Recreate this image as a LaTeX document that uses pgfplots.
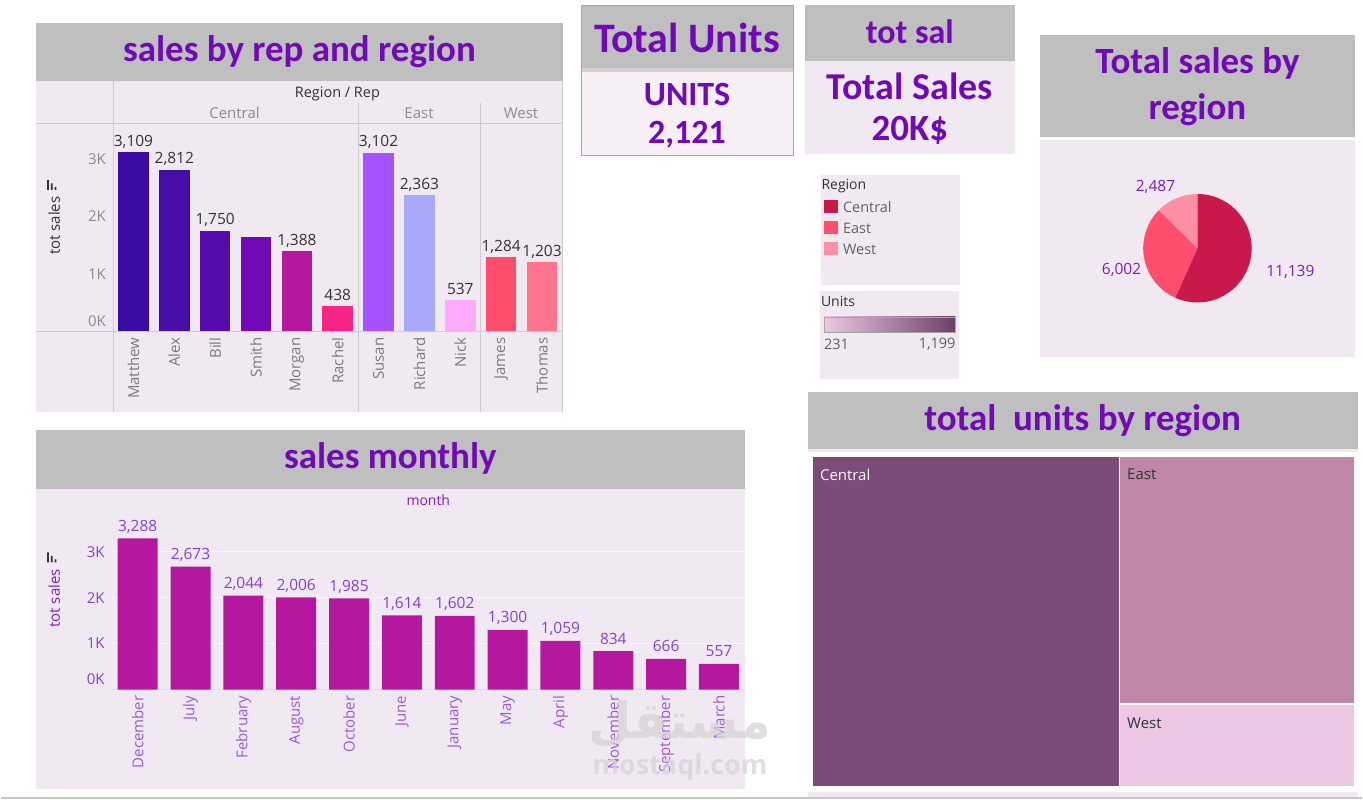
\documentclass[border=0pt]{standalone}
\usepackage{pgfplots}
\pgfplotsset{compat=1.18}
\usepackage{fontspec}
\setmainfont{Open Sans}
\newfontfamily\titlefont{Carlito}
\newfontfamily\arabicfont[Script=Arabic]{DejaVu Sans}
\TeXXeTstate=1

\newcommand\fs[1]{\fontsize{#1}{#1}\selectfont}

% dashboard palette
\definecolor{lav}{HTML}{F1E9F1}
\definecolor{lavlight}{HTML}{F6F0F6}
\definecolor{hdrgray}{HTML}{BFBFBF}
\definecolor{ttl}{HTML}{7209B7}
\definecolor{divider}{HTML}{CFCACF}
\definecolor{axgray}{HTML}{8C8C8C}
\definecolor{labgray}{HTML}{7A7A7A}
\definecolor{valgray}{HTML}{333333}
\definecolor{purtext}{HTML}{8441D3}
\definecolor{purmonth}{HTML}{9B59D6}
\definecolor{purlabel}{HTML}{7A1FC2}
\definecolor{gridc}{HTML}{F9F5F9}
\definecolor{markgray}{HTML}{D6D3D6}
% reps
\definecolor{cMatthew}{HTML}{3A0CA3}
\definecolor{cAlex}{HTML}{480CA8}
\definecolor{cBill}{HTML}{560BAD}
\definecolor{cSmith}{HTML}{7209B7}
\definecolor{cMorgan}{HTML}{B5179E}
\definecolor{cRachel}{HTML}{F72585}
\definecolor{cSusan}{HTML}{A652FE}
\definecolor{cRichard}{HTML}{A9A9FA}
\definecolor{cNick}{HTML}{FDAAFC}
\definecolor{cJames}{HTML}{FF4D6D}
\definecolor{cThomas}{HTML}{FF758F}
% regions
\definecolor{pieC}{HTML}{C9184A}
\definecolor{pieE}{HTML}{FF4D6D}
\definecolor{pieW}{HTML}{FF8FA3}
\definecolor{tmC}{HTML}{7B4C78}
\definecolor{tmE}{HTML}{BE87A8}
\definecolor{tmW}{HTML}{ECC8E4}

\begin{document}
\begin{tikzpicture}[x=1pt,y=1pt]
\fill[white] (0,0) rectangle (1363,-800);

%% ---------------- sales by rep and region ----------------
\fill[lav] (35,-81) rectangle (563,-412);
\fill[hdrgray] (35,-23) rectangle (563,-81.5);
\node[font=\titlefont\bfseries\fs{37}, text=ttl] at (299,-52) {sales by rep and region};
\draw[divider, line width=1pt] (35,-123.3) -- (563,-123.3);
\draw[divider, line width=1pt] (35,-331.7) -- (563,-331.7);
\draw[divider, line width=1pt] (112.4,-81.5) -- (112.4,-412);
\draw[divider, line width=1pt] (357.8,-103) -- (357.8,-412);
\draw[divider, line width=1pt] (480.5,-103) -- (480.5,-412);
\draw[divider, line width=1pt] (562.5,-81.5) -- (562.5,-412);
\node[font=\fs{14.5}, text=valgray] at (337,-94) {Region / Rep};
\node[font=\fs{15}, text=axgray] at (234,-113.5) {Central};
\node[font=\fs{15}, text=axgray] at (418.7,-113.5) {East};
\node[font=\fs{15}, text=axgray] at (520.8,-113.5) {West};
\node[font=\fs{15}, text=valgray, rotate=90] at (53.5,-226) {tot sales};
\fill[valgray] (46.5,-190) rectangle (48.3,-180) (50.2,-190) rectangle (52,-183.5) (53.9,-190) rectangle (55.7,-187);

\begin{axis}[
  at={(112.4pt,-331.7pt)}, anchor=south west,
  scale only axis, width=449.9pt, height=208.4pt,
  xmin=-0.5, xmax=10.5, ymin=0, ymax=3618,
  axis line style={draw=none}, major tick length=0pt,
  ybar, bar width=30.7pt, bar shift=0pt,
  ytick={1000,2000,3000}, yticklabels={1K,2K,3K},
  extra y ticks={0}, extra y tick labels={0K},
  extra y tick style={yticklabel style={yshift=10.5pt}},
  yticklabel style={font=\fs{15}, text=axgray, anchor=east, inner sep=0pt, xshift=-7pt},
  xtick={0,...,10},
  xticklabels={Matthew,Alex,Bill,Smith,Morgan,Rachel,Susan,Richard,Nick,James,Thomas},
  xticklabel style={font=\fs{15}, text=labgray, rotate=90, anchor=east, inner sep=0pt},
  xticklabel shift=6pt,
  nodes near coords, point meta=explicit symbolic,
  every node near coord/.append style={font=\fs{15.5}, text=valgray, inner sep=0pt, anchor=base, yshift=6pt},
  clip=false,
]
\addplot[fill=cMatthew, draw=none] coordinates {(0,3109) [3,109]};
\addplot[fill=cAlex,    draw=none] coordinates {(1,2812) [2,812]};
\addplot[fill=cBill,    draw=none] coordinates {(2,1750) [1,750]};
\addplot[fill=cSmith,   draw=none] coordinates {(3,1642) []};
\addplot[fill=cMorgan,  draw=none] coordinates {(4,1388) [1,388]};
\addplot[fill=cRachel,  draw=none] coordinates {(5,438) [438]};
\addplot[fill=cSusan,   draw=none] coordinates {(6,3102) [3,102]};
\addplot[fill=cRichard, draw=none] coordinates {(7,2363) [2,363]};
\addplot[fill=cNick,    draw=none] coordinates {(8,537) [537]};
\addplot[fill=cJames,   draw=none] coordinates {(9,1284) [1,284]};
\addplot[fill=cThomas,  draw=none] coordinates {(10,1203) [1,203]};
\end{axis}

%% ---------------- sales monthly ----------------
\fill[lav] (35,-490) rectangle (745,-790);
\fill[hdrgray] (35,-430) rectangle (745,-490);
\node[font=\titlefont\bfseries\fs{37}, text=ttl] at (390,-459) {sales monthly};
\node[font=\fs{14}, text=purlabel] at (428,-501) {month};
\node[font=\fs{15}, text=purlabel, rotate=90] at (53.5,-599) {tot sales};
\fill[valgray] (46.5,-563) rectangle (48.3,-553) (50.2,-563) rectangle (52,-556.5) (53.9,-563) rectangle (55.7,-560);
\draw[divider!60, line width=0.8pt] (110.7,-690.3) -- (745,-690.3);

\begin{axis}[
  at={(110.65pt,-690.3pt)}, anchor=south west,
  scale only axis, width=634.8pt, height=178pt,
  xmin=-0.5, xmax=11.5, ymin=0, ymax=3870,
  axis line style={draw=none}, major tick length=0pt,
  ymajorgrids, grid style={draw=gridc, line width=1pt},
  ybar, bar width=40pt, bar shift=0pt,
  ytick={1000,2000,3000}, yticklabels={1K,2K,3K},
  extra y ticks={0}, extra y tick labels={0K},
  extra y tick style={yticklabel style={yshift=10.5pt}, major grid style={draw=none}},
  yticklabel style={font=\fs{15}, text=purtext, anchor=east, inner sep=0pt, xshift=-6.5pt},
  xtick={0,...,11},
  xticklabels={December,July,February,August,October,June,January,May,April,November,September,March},
  xticklabel style={font=\fs{15}, text=purmonth, rotate=90, anchor=east, inner sep=0pt},
  xticklabel shift=6pt,
  nodes near coords, point meta=explicit symbolic,
  every node near coord/.append style={font=\fs{15.5}, text=purtext, inner sep=0pt, anchor=base, yshift=7pt},
  clip=false,
]
\addplot[fill=cMorgan, draw=none] coordinates {
  (0,3288) [3,288] (1,2673) [2,673] (2,2044) [2,044] (3,2006) [2,006]
  (4,1985) [1,985] (5,1614) [1,614] (6,1602) [1,602] (7,1300) [1,300]
  (8,1059) [1,059] (9,834) [834] (10,666) [666] (11,557) [557]};
\end{axis}

%% ---------------- Total Units card ----------------
\fill[lavlight] (581.7,-6) rectangle (793.3,-156);
\fill[hdrgray] (581.7,-6) rectangle (793.3,-68.3);
\fill[hdrgray!70] (581.7,-68.3) rectangle (793.3,-71.7);
\draw[gray!70, line width=1pt] (581.7,-6) rectangle (793.3,-156);
\node[font=\titlefont\bfseries\fs{42}, text=ttl] at (687,-38) {Total Units};
\node[font=\titlefont\bfseries\fs{34}, text=ttl] at (687,-94.3) {UNITS};
\node[font=\titlefont\bfseries\fs{34}, text=ttl] at (687,-135) {2,121};

%% ---------------- tot sal card ----------------
\fill[lav] (805,-61) rectangle (1015,-153.7);
\fill[hdrgray] (805,-5) rectangle (1015,-61);
\node[font=\titlefont\bfseries\fs{34}, text=ttl] at (910,-32) {tot sal};
\node[font=\titlefont\bfseries\fs{38}, text=ttl] at (910,-86) {Total Sales};
\node[font=\titlefont\bfseries\fs{37}, text=ttl] at (910,-130) {20K\$};

%% ---------------- legends ----------------
\fill[lav] (821,-175) rectangle (960,-285.7);
\node[font=\fs{14}, text=valgray, anchor=west, inner sep=0pt] at (821.5,-186) {Region};
\fill[pieC] (824,-200) rectangle (837.7,-213.7);
\fill[pieE] (824,-221) rectangle (837.7,-234.7);
\fill[pieW] (824,-242) rectangle (837.7,-255.7);
\node[font=\fs{14.5}, text=labgray!80!black, anchor=west, inner sep=0pt] at (843,-207.3) {Central};
\node[font=\fs{14.5}, text=labgray!80!black, anchor=west, inner sep=0pt] at (843,-228.3) {East};
\node[font=\fs{14.5}, text=labgray!80!black, anchor=west, inner sep=0pt] at (843,-249.3) {West};

\fill[lav] (820,-291) rectangle (959,-379);
\node[font=\fs{14}, text=valgray, anchor=west, inner sep=0pt] at (821,-302) {Units};
\shade[left color=tmW, right color=tmC!85!black] (824.3,-317.3) rectangle (955.7,-332.3);
\draw[gray!70, line width=0.8pt] (824.3,-317.3) rectangle (955.7,-332.3);
\node[font=\fs{14.5}, text=labgray!80!black, anchor=west, inner sep=0pt] at (824,-345) {231};
\node[font=\fs{14.5}, text=labgray!80!black, anchor=east, inner sep=0pt] at (956,-345) {1,199};

%% ---------------- Total sales by region (pie) ----------------
\fill[lav] (1040,-140) rectangle (1356,-357.7);
\fill[hdrgray] (1040,-35) rectangle (1356,-136.7);
\node[font=\titlefont\bfseries\fs{37}, text=ttl] at (1198,-63.3) {Total sales by};
\node[font=\titlefont\bfseries\fs{37}, text=ttl] at (1198,-110) {region};

% region sales, in hundreds for the angle arithmetic
\pgfmathsetmacro{\sC}{11139/100}
\pgfmathsetmacro{\sE}{6002/100}
\pgfmathsetmacro{\sW}{2487/100}
\pgfmathsetmacro{\sT}{\sC+\sE+\sW}
\pgfmathsetmacro{\aC}{90-360*(\sC/\sT)}
\pgfmathsetmacro{\aE}{\aC-360*(\sE/\sT)}
\begin{axis}[
  at={(1198pt,-248.5pt)}, anchor=center,
  scale only axis, width=108.6pt, height=108.6pt,
  xmin=-1, xmax=1, ymin=-1, ymax=1, hide axis, clip=false,
]
\fill[pieC] (axis cs:0,0) -- ++(90:54.3pt) arc[start angle=90, end angle=\aC, radius=54.3pt] -- cycle;
\fill[pieE] (axis cs:0,0) -- ++(\aC:54.3pt) arc[start angle=\aC, end angle=\aE, radius=54.3pt] -- cycle;
\fill[pieW] (axis cs:0,0) -- ++(\aE:54.3pt) arc[start angle=\aE, end angle=-270, radius=54.3pt] -- cycle;
\end{axis}
\node[font=\fs{15.5}, text=purlabel] at (1156,-187) {2,487};
\node[font=\fs{15.5}, text=purlabel] at (1122,-270) {6,002};
\node[font=\fs{15.5}, text=purlabel] at (1291,-272) {11,139};

%% ---------------- total units by region (treemap) ----------------
\fill[hdrgray] (808,-392) rectangle (1359,-449);
\fill[lav] (808,-449) rectangle (1359,-452);
\fill[lav] (808,-793) rectangle (1359,-799);
\node[font=\titlefont\bfseries\fs{37}, text=ttl] at (1083,-421) {total\ \ units by region};
\begin{axis}[
  at={(812.8pt,-787.7pt)}, anchor=south west,
  scale only axis, width=542.7pt, height=330.7pt,
  xmin=0, xmax=2121, ymin=0, ymax=922, hide axis, clip=false,
]
% area of each tile = units x 922
\addplot[fill=tmC, draw=white, line width=1.2pt] coordinates {(0,0) (1199,0) (1199,922) (0,922)} -- cycle;
\addplot[fill=tmE, draw=white, line width=1.2pt] coordinates {(1199,231) (2121,231) (2121,922) (1199,922)} -- cycle;
\addplot[fill=tmW, draw=white, line width=1.2pt] coordinates {(1199,0) (2121,0) (2121,231) (1199,231)} -- cycle;
\end{axis}
\node[font=\fs{15}, text=white!90!tmW, anchor=west, inner sep=0pt] at (820,-475) {Central};
\node[font=\fs{15}, text=valgray, anchor=west, inner sep=0pt] at (1127.5,-475) {East};
\node[font=\fs{15}, text=valgray, anchor=west, inner sep=0pt] at (1127.5,-724) {West};

%% bottom rule
\draw[gray!45, line width=1.5pt] (0,-798.8) -- (1363,-798.8);

%% site mark
\node[font=\arabicfont\bfseries\fs{50}, text=markgray, opacity=0.75] at (680,-725) {\beginR مستقل\endR};
\node[font=\bfseries\fs{27}, text=markgray, opacity=0.75] at (680,-768) {mostaql.com};
\end{tikzpicture}
\end{document}
